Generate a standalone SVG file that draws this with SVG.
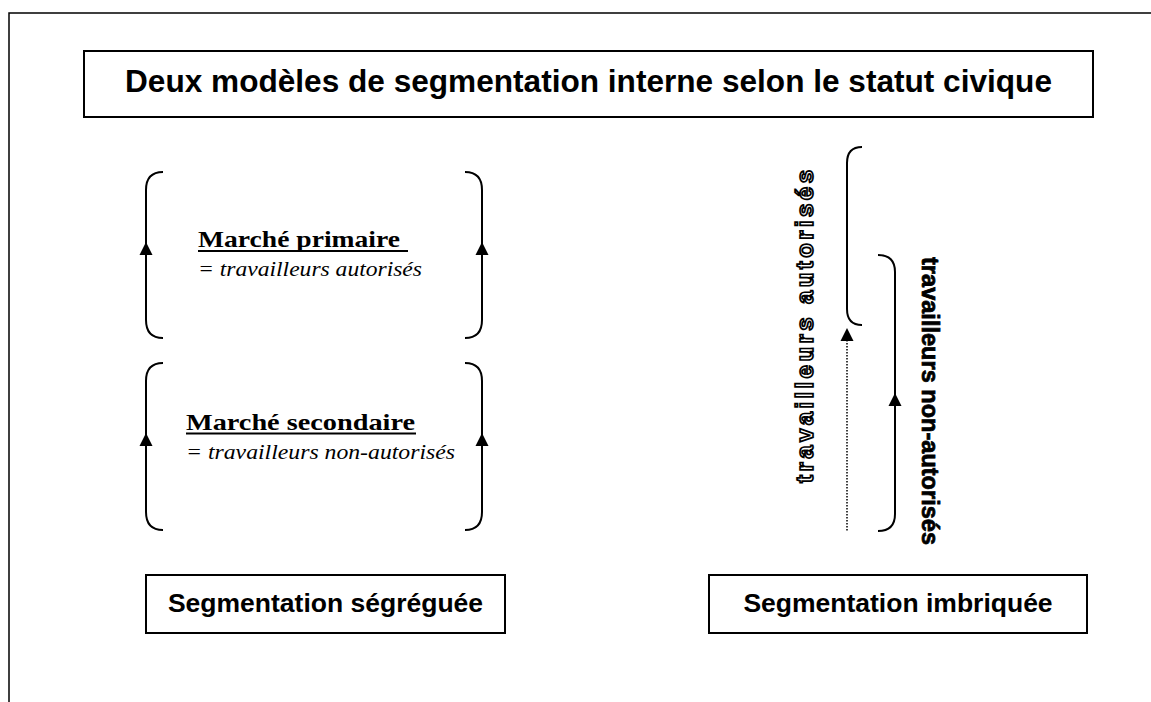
<svg xmlns="http://www.w3.org/2000/svg" width="1151" height="702" viewBox="0 0 1151 702">
<style>
  .box{fill:#fff;stroke:#000;stroke-width:2}
  .frame{fill:none;stroke:#000;stroke-width:1.5}
  .sans{font-family:"Liberation Sans",Arial,sans-serif;font-weight:bold;fill:#000}
  .serifb{font-family:"Liberation Serif","Times New Roman",serif;font-weight:bold;fill:#000}
  .serifi{font-family:"Liberation Serif","Times New Roman",serif;font-style:italic;fill:#000}
  .outline{fill:#fff;stroke:#000;stroke-width:1.7;paint-order:normal}
  .heavy{stroke:#000;stroke-width:0.8}
  .br{fill:none;stroke:#000;stroke-width:2}
  .dot{fill:none;stroke:#000;stroke-width:1.5;stroke-dasharray:1.5 1.5}
  .ul{stroke:#000;stroke-width:2}
  .ah{fill:#000}
</style>
<rect width="1151" height="702" fill="#fff"/>
<path class="frame" d="M9,702 L9,13 L1151,13"/>

<g id="title">
  <rect class="box" x="84" y="51" width="1009" height="66"/>
  <text class="sans" x="588.5" y="92" font-size="31.6" text-anchor="middle">Deux modèles de segmentation interne selon le statut civique</text>
</g>

<g id="primary-market">
  <text class="serifb" x="198" y="247" font-size="23" textLength="202" lengthAdjust="spacingAndGlyphs">Marché primaire</text>
  <line class="ul" x1="198" y1="251" x2="408" y2="251"/>
  <text class="serifi" x="198" y="276" font-size="21" textLength="224" lengthAdjust="spacingAndGlyphs">= travailleurs autorisés</text>
</g>

<g id="secondary-market">
  <text class="serifb" x="186" y="429.5" font-size="23" textLength="229" lengthAdjust="spacingAndGlyphs">Marché secondaire</text>
  <line class="ul" x1="186" y1="433.5" x2="416" y2="433.5"/>
  <text class="serifi" x="186" y="458.5" font-size="21" textLength="269" lengthAdjust="spacingAndGlyphs">= travailleurs non-autorisés</text>
</g>

<g id="label-autorises">
  <text class="sans outline" transform="translate(813,326.5) rotate(-90)" x="0" y="0" font-size="24" text-anchor="middle" textLength="313" lengthAdjust="spacing">travailleurs autorisés</text>
</g>

<g id="label-non-autorises">
  <text class="sans heavy" transform="translate(922,401) rotate(90)" x="0" y="0" font-size="23.5" text-anchor="middle" textLength="288" lengthAdjust="spacing">travailleurs non-autorisés</text>
</g>

<g id="box-segregated">
  <rect class="box" x="146" y="575" width="359" height="58"/>
  <text class="sans" x="325.5" y="612" font-size="26.5" text-anchor="middle">Segmentation ségréguée</text>
</g>

<g id="box-imbriquee">
  <rect class="box" x="709" y="575" width="378" height="58"/>
  <text class="sans" x="898" y="612" font-size="26.5" text-anchor="middle">Segmentation imbriquée</text>
</g>

<g id="connectors">
  <path class="br" d="M163,172 Q146,172 146,190 L146,320 Q146,338 163,338"/>
  <path class="ah" d="M146,242 L152.5,255 L139.5,255 Z"/>
  <path class="br" d="M465,172 Q482,172 482,190 L482,320 Q482,338 465,338"/>
  <path class="ah" d="M482,242 L488.5,255 L475.5,255 Z"/>
  <path class="br" d="M163,363 Q146,363 146,381 L146,512 Q146,530 163,530"/>
  <path class="ah" d="M146,433 L152.5,446 L139.5,446 Z"/>
  <path class="br" d="M465,363 Q482,363 482,381 L482,512 Q482,530 465,530"/>
  <path class="ah" d="M482,433 L488.5,446 L475.5,446 Z"/>
  <path class="br" d="M862,147 Q847,147 847,163 L847,309 Q847,325 862,325"/>
  <line class="dot" x1="847" y1="340" x2="847" y2="532"/>
  <path class="ah" d="M847,328 L853.5,341 L840.5,341 Z"/>
  <path class="br" d="M878,255 Q895,255 895,272 L895,514 Q895,531 878,531"/>
  <path class="ah" d="M895,393 L901.5,406 L888.5,406 Z"/>
</g>
</svg>
